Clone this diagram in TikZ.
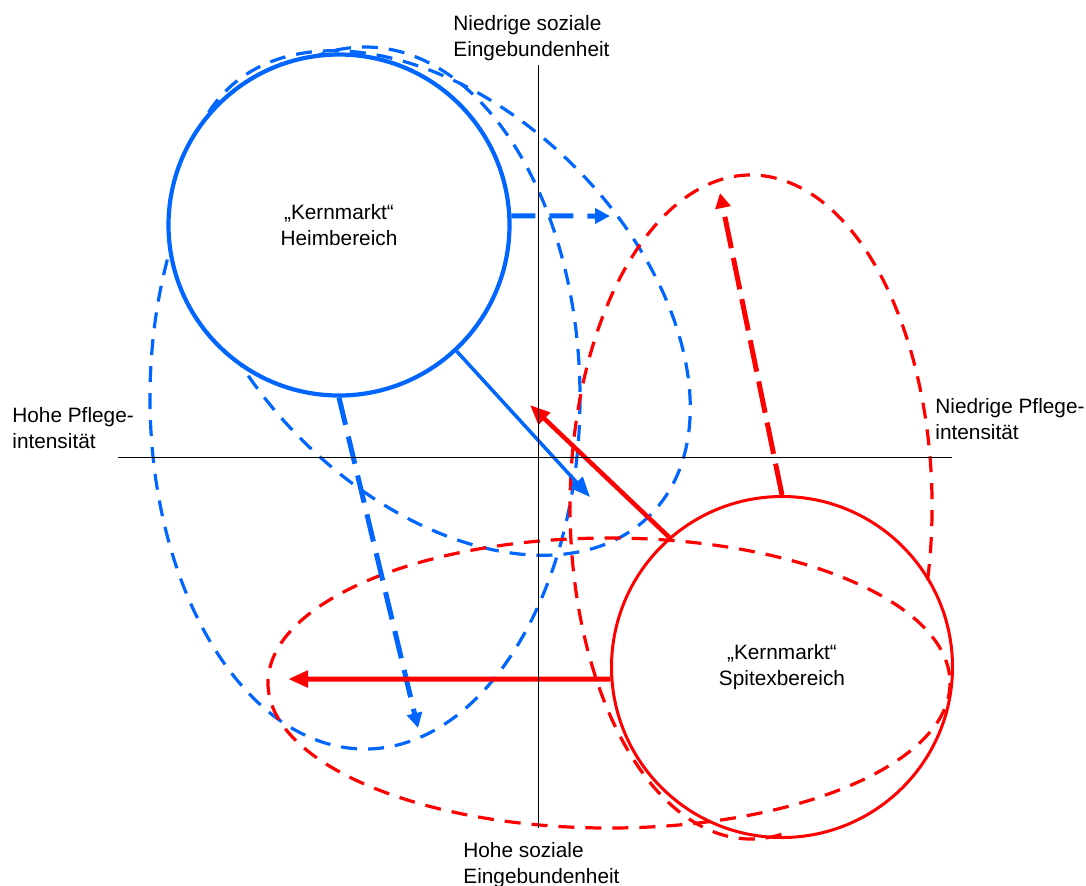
\documentclass[tikz,border=0pt]{standalone}
\usepackage{fontspec}
\setmainfont{Liberation Sans}
\usetikzlibrary{arrows.meta}
\definecolor{heimblau}{RGB}{0,102,255}
\definecolor{spitexrot}{RGB}{255,0,0}

\begin{document}
\begin{tikzpicture}
  [x=0.5pt,y=-0.5pt,font=\fontsize{10.4}{13}\selectfont,
   achse/.style={draw=black,line width=0.5pt},
   beschriftung/.style={anchor=north west,inner sep=0pt,align=left},
   kernmarkt/.style={draw,shape=circle,inner sep=0pt,minimum size=170.5pt,align=center},
   feld/.style={line width=1.6pt,dash pattern=on 8pt off 5.5pt},
   verschiebung/.style={line width=2.5pt,dash pattern=on 12pt off 7pt,-{Triangle[length=7.5pt,width=7.5pt]}},
   pfeil/.style={-{Triangle[length=10pt,width=8pt]}}]

  \useasboundingbox (0,0) rectangle (1086,885);

  \draw[feld,heimblau] (365,398) ellipse [x radius=215, y radius=351];
  \draw[feld,heimblau,rotate around={-45:(438,303)}] (438,303) ellipse [x radius=300, y radius=193];
  \draw[feld,spitexrot] (927.6,580) arc [start angle=12.7, end angle=-280, x radius=181, y radius=332];
  \draw[feld,spitexrot] (609,683) ellipse [x radius=341, y radius=145];

  \node[kernmarkt,draw=heimblau,line width=2.1pt,fill=white] (heim) at (339,225) {„Kernmarkt“\\Heimbereich};
  \node[kernmarkt,draw=spitexrot,line width=1.5pt] (spitex) at (782,667) {„Kernmarkt“\\Spitexbereich};

  \coordinate (heim-rechts) at (610,216);
  \coordinate (heim-unten) at (418,728);
  \coordinate (heim-diag) at (590,497);
  \coordinate (spitex-oben) at (720,193);
  \coordinate (spitex-links) at (288,679);
  \coordinate (spitex-diag) at (530,405);

  \draw[verschiebung,heimblau] (heim.3) -- (heim-rechts);
  \draw[verschiebung,heimblau,dash pattern=on 14pt off 6pt] (heim.south) -- (heim-unten);
  \draw[pfeil,heimblau,line width=1.75pt] (heim.-47) -- (heim-diag);
  \draw[verschiebung,spitexrot,dash pattern=on 16pt off 5pt] (spitex.north) -- (spitex-oben);
  \draw[pfeil,spitexrot,line width=2.5pt] (spitex.184) -- (spitex-links);
  \draw[pfeil,spitexrot,line width=2.25pt] (spitex.131) -- (spitex-diag);

  \coordinate (links) at (118,457);
  \coordinate (rechts) at (952,457);
  \coordinate (oben) at (538,65);
  \coordinate (unten) at (538,828);
  \draw[achse] (links) -- (rechts);
  \draw[achse] (oben) -- (unten);

  \node[beschriftung] (sozial-niedrig) at (453,15) {Niedrige soziale\\Eingebundenheit};
  \node[beschriftung] (pflege-hoch) at (12,407) {Hohe Pflege-\\intensität};
  \node[beschriftung] (pflege-niedrig) at (935,398) {Niedrige Pflege-\\intensität};
  \node[beschriftung] (sozial-hoch) at (463,842) {Hohe soziale\\Eingebundenheit};
\end{tikzpicture}
\end{document}
